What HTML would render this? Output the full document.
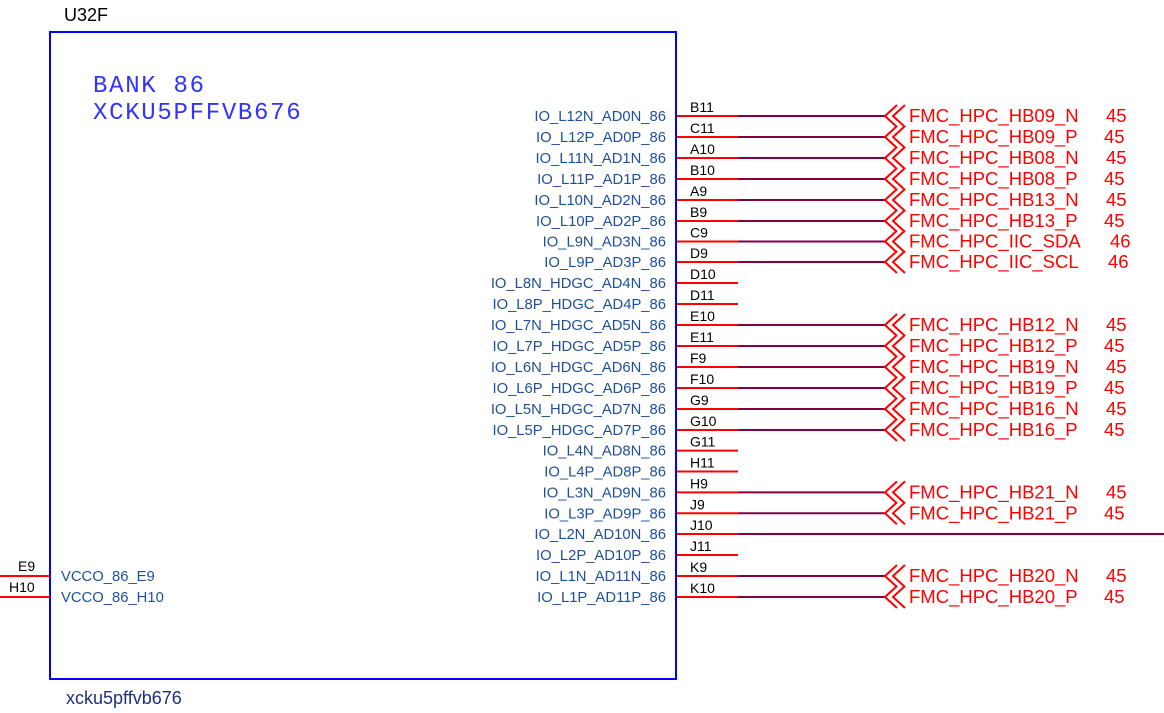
<!DOCTYPE html>
<html><head><meta charset="utf-8"><style>
html,body{margin:0;padding:0;background:#fff;width:1164px;height:713px;overflow:hidden}
svg text{font-family:"Liberation Sans",sans-serif}
.pn{font-size:14.8px;fill:#1f4f9c;text-anchor:end}
.pd{font-size:14px;fill:#000}
.nl{font-size:18.5px;fill:#ff0000}
.w{stroke:#800040;stroke-width:2}
.p{stroke:#ff0000;stroke-width:2}
.c{fill:none;stroke:#ff0000;stroke-width:2}
</style></head><body>
<svg width="1164" height="713" xmlns="http://www.w3.org/2000/svg">
<rect x="50" y="32" width="626" height="647" fill="none" stroke="#0000ff" stroke-width="2"/>
<text x="64" y="21" style="font-size:18px;fill:#000">U32F</text>
<text x="66" y="704" style="font-size:18px;fill:#1f2f7f">xcku5pffvb676</text>
<text x="93" y="92" style="font-family:'Liberation Mono',monospace;font-size:24px;fill:#3333ff;letter-spacing:1.7px">BANK 86</text>
<text x="93" y="119" style="font-family:'Liberation Mono',monospace;font-size:24px;fill:#3333ff;letter-spacing:1.7px">XCKU5PFFVB676</text>
<line x1="0" y1="576" x2="50" y2="576" class="p"/>
<line x1="0" y1="597" x2="50" y2="597" class="p"/>
<text x="18" y="571" class="pd">E9</text>
<text x="9" y="592" class="pd">H10</text>
<text x="61" y="581" class="pn" style="text-anchor:start">VCCO_86_E9</text>
<text x="61" y="602" class="pn" style="text-anchor:start">VCCO_86_H10</text>
<g class="p">
<line x1="677" y1="116" x2="738" y2="116"/><line x1="677" y1="137" x2="738" y2="137"/><line x1="677" y1="158" x2="738" y2="158"/><line x1="677" y1="179" x2="738" y2="179"/><line x1="677" y1="200" x2="738" y2="200"/><line x1="677" y1="221" x2="738" y2="221"/><line x1="677" y1="241.5" x2="738" y2="241.5"/><line x1="677" y1="262" x2="738" y2="262"/><line x1="677" y1="283" x2="738" y2="283"/><line x1="677" y1="304" x2="738" y2="304"/><line x1="677" y1="325" x2="738" y2="325"/><line x1="677" y1="346" x2="738" y2="346"/><line x1="677" y1="367" x2="738" y2="367"/><line x1="677" y1="388" x2="738" y2="388"/><line x1="677" y1="409" x2="738" y2="409"/><line x1="677" y1="430" x2="738" y2="430"/><line x1="677" y1="450.6" x2="738" y2="450.6"/><line x1="677" y1="471.5" x2="738" y2="471.5"/><line x1="677" y1="492.4" x2="738" y2="492.4"/><line x1="677" y1="513.3" x2="738" y2="513.3"/><line x1="677" y1="534" x2="738" y2="534"/><line x1="677" y1="555" x2="738" y2="555"/><line x1="677" y1="576" x2="738" y2="576"/><line x1="677" y1="597" x2="738" y2="597"/>
</g>
<g class="w">
<line x1="738" y1="116" x2="885" y2="116"/><line x1="738" y1="137" x2="885" y2="137"/><line x1="738" y1="158" x2="885" y2="158"/><line x1="738" y1="179" x2="885" y2="179"/><line x1="738" y1="200" x2="885" y2="200"/><line x1="738" y1="221" x2="885" y2="221"/><line x1="738" y1="241.5" x2="885" y2="241.5"/><line x1="738" y1="262" x2="885" y2="262"/>
<line x1="738" y1="325" x2="885" y2="325"/><line x1="738" y1="346" x2="885" y2="346"/><line x1="738" y1="367" x2="885" y2="367"/><line x1="738" y1="388" x2="885" y2="388"/><line x1="738" y1="409" x2="885" y2="409"/><line x1="738" y1="430" x2="885" y2="430"/>
<line x1="738" y1="492.4" x2="885" y2="492.4"/><line x1="738" y1="513.3" x2="885" y2="513.3"/><line x1="738" y1="534" x2="1164" y2="534"/><line x1="738" y1="576" x2="885" y2="576"/><line x1="738" y1="597" x2="885" y2="597"/>
</g>
<g class="c">
<polyline points="897,105 885,116 897,127"/><polyline points="905,105 893,116 905,127"/>
<polyline points="897,126 885,137 897,148"/><polyline points="905,126 893,137 905,148"/>
<polyline points="897,147 885,158 897,169"/><polyline points="905,147 893,158 905,169"/>
<polyline points="897,168 885,179 897,190"/><polyline points="905,168 893,179 905,190"/>
<polyline points="897,189 885,200 897,211"/><polyline points="905,189 893,200 905,211"/>
<polyline points="897,210 885,221 897,232"/><polyline points="905,210 893,221 905,232"/>
<polyline points="897,230.5 885,241.5 897,252.5"/><polyline points="905,230.5 893,241.5 905,252.5"/>
<polyline points="897,251 885,262 897,273"/><polyline points="905,251 893,262 905,273"/>
<polyline points="897,314 885,325 897,336"/><polyline points="905,314 893,325 905,336"/>
<polyline points="897,335 885,346 897,357"/><polyline points="905,335 893,346 905,357"/>
<polyline points="897,356 885,367 897,378"/><polyline points="905,356 893,367 905,378"/>
<polyline points="897,377 885,388 897,399"/><polyline points="905,377 893,388 905,399"/>
<polyline points="897,398 885,409 897,420"/><polyline points="905,398 893,409 905,420"/>
<polyline points="897,419 885,430 897,441"/><polyline points="905,419 893,430 905,441"/>
<polyline points="897,481.4 885,492.4 897,503.4"/><polyline points="905,481.4 893,492.4 905,503.4"/>
<polyline points="897,502.3 885,513.3 897,524.3"/><polyline points="905,502.3 893,513.3 905,524.3"/>
<polyline points="897,565 885,576 897,587"/><polyline points="905,565 893,576 905,587"/>
<polyline points="897,586 885,597 897,608"/><polyline points="905,586 893,597 905,608"/>
</g>
<text x="666" y="121" class="pn">IO_L12N_AD0N_86</text>
<text x="666" y="142" class="pn">IO_L12P_AD0P_86</text>
<text x="666" y="163" class="pn">IO_L11N_AD1N_86</text>
<text x="666" y="184" class="pn">IO_L11P_AD1P_86</text>
<text x="666" y="205" class="pn">IO_L10N_AD2N_86</text>
<text x="666" y="226" class="pn">IO_L10P_AD2P_86</text>
<text x="666" y="246.5" class="pn">IO_L9N_AD3N_86</text>
<text x="666" y="267" class="pn">IO_L9P_AD3P_86</text>
<text x="666" y="288" class="pn">IO_L8N_HDGC_AD4N_86</text>
<text x="666" y="309" class="pn">IO_L8P_HDGC_AD4P_86</text>
<text x="666" y="330" class="pn">IO_L7N_HDGC_AD5N_86</text>
<text x="666" y="351" class="pn">IO_L7P_HDGC_AD5P_86</text>
<text x="666" y="372" class="pn">IO_L6N_HDGC_AD6N_86</text>
<text x="666" y="393" class="pn">IO_L6P_HDGC_AD6P_86</text>
<text x="666" y="414" class="pn">IO_L5N_HDGC_AD7N_86</text>
<text x="666" y="435" class="pn">IO_L5P_HDGC_AD7P_86</text>
<text x="666" y="455.6" class="pn">IO_L4N_AD8N_86</text>
<text x="666" y="476.5" class="pn">IO_L4P_AD8P_86</text>
<text x="666" y="497.4" class="pn">IO_L3N_AD9N_86</text>
<text x="666" y="518.3" class="pn">IO_L3P_AD9P_86</text>
<text x="666" y="539" class="pn">IO_L2N_AD10N_86</text>
<text x="666" y="560" class="pn">IO_L2P_AD10P_86</text>
<text x="666" y="581" class="pn">IO_L1N_AD11N_86</text>
<text x="666" y="602" class="pn">IO_L1P_AD11P_86</text>
<text x="690" y="112" class="pd">B11</text>
<text x="690" y="133" class="pd">C11</text>
<text x="690" y="154" class="pd">A10</text>
<text x="690" y="175" class="pd">B10</text>
<text x="690" y="196" class="pd">A9</text>
<text x="690" y="217" class="pd">B9</text>
<text x="690" y="237.5" class="pd">C9</text>
<text x="690" y="258" class="pd">D9</text>
<text x="690" y="279" class="pd">D10</text>
<text x="690" y="300" class="pd">D11</text>
<text x="690" y="321" class="pd">E10</text>
<text x="690" y="342" class="pd">E11</text>
<text x="690" y="363" class="pd">F9</text>
<text x="690" y="384" class="pd">F10</text>
<text x="690" y="405" class="pd">G9</text>
<text x="690" y="426" class="pd">G10</text>
<text x="690" y="446.6" class="pd">G11</text>
<text x="690" y="467.5" class="pd">H11</text>
<text x="690" y="488.4" class="pd">H9</text>
<text x="690" y="509.3" class="pd">J9</text>
<text x="690" y="530" class="pd">J10</text>
<text x="690" y="551" class="pd">J11</text>
<text x="690" y="572" class="pd">K9</text>
<text x="690" y="593" class="pd">K10</text>
<text x="909" y="122" class="nl">FMC_HPC_HB09_N</text><text x="1106" y="122" class="nl">45</text>
<text x="909" y="143" class="nl">FMC_HPC_HB09_P</text><text x="1104" y="143" class="nl">45</text>
<text x="909" y="164" class="nl">FMC_HPC_HB08_N</text><text x="1106" y="164" class="nl">45</text>
<text x="909" y="185" class="nl">FMC_HPC_HB08_P</text><text x="1104" y="185" class="nl">45</text>
<text x="909" y="206" class="nl">FMC_HPC_HB13_N</text><text x="1106" y="206" class="nl">45</text>
<text x="909" y="227" class="nl">FMC_HPC_HB13_P</text><text x="1104" y="227" class="nl">45</text>
<text x="909" y="247.5" class="nl">FMC_HPC_IIC_SDA</text><text x="1110" y="247.5" class="nl">46</text>
<text x="909" y="268" class="nl">FMC_HPC_IIC_SCL</text><text x="1108" y="268" class="nl">46</text>
<text x="909" y="331" class="nl">FMC_HPC_HB12_N</text><text x="1106" y="331" class="nl">45</text>
<text x="909" y="352" class="nl">FMC_HPC_HB12_P</text><text x="1104" y="352" class="nl">45</text>
<text x="909" y="373" class="nl">FMC_HPC_HB19_N</text><text x="1106" y="373" class="nl">45</text>
<text x="909" y="394" class="nl">FMC_HPC_HB19_P</text><text x="1104" y="394" class="nl">45</text>
<text x="909" y="415" class="nl">FMC_HPC_HB16_N</text><text x="1106" y="415" class="nl">45</text>
<text x="909" y="436" class="nl">FMC_HPC_HB16_P</text><text x="1104" y="436" class="nl">45</text>
<text x="909" y="498.4" class="nl">FMC_HPC_HB21_N</text><text x="1106" y="498.4" class="nl">45</text>
<text x="909" y="519.3" class="nl">FMC_HPC_HB21_P</text><text x="1104" y="519.3" class="nl">45</text>
<text x="909" y="582" class="nl">FMC_HPC_HB20_N</text><text x="1106" y="582" class="nl">45</text>
<text x="909" y="603" class="nl">FMC_HPC_HB20_P</text><text x="1104" y="603" class="nl">45</text>
</svg>
</body></html>
